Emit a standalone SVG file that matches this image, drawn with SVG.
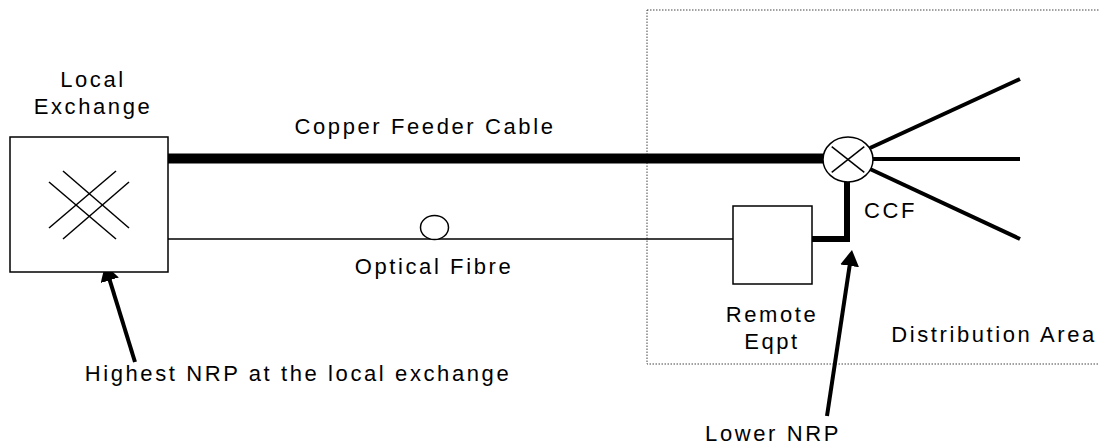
<svg xmlns="http://www.w3.org/2000/svg" width="1099" height="445" viewBox="0 0 1099 445">
<defs>
<style>
text{font-family:"Liberation Sans",Arial,sans-serif;font-size:22px;letter-spacing:2.6px;fill:#000}
.box{fill:#fff;stroke:#000;stroke-width:1.5}
.thin{stroke:#000;stroke-width:1.5;fill:none}
.ptr{stroke:#000;stroke-width:4;fill:none}
</style>
<marker id="ah" markerUnits="userSpaceOnUse" markerWidth="20" markerHeight="20" refX="8" refY="9.5" orient="auto">
<path d="M0,0 L16,9.5 L0,19 z" fill="#000"/>
</marker>
</defs>
<rect width="1099" height="445" fill="#fff"/>
<g id="distribution-area">
<rect x="647" y="10" width="470" height="354" fill="none" stroke="#444" stroke-width="1" stroke-dasharray="1.5 1.5"/>
<text x="994" y="342" text-anchor="middle">Distribution Area</text>
</g>
<g id="connectors">
<line x1="168" y1="158.5" x2="824" y2="158.5" stroke="#000" stroke-width="10"/>
<line class="thin" x1="168" y1="239" x2="733" y2="239"/>
<polyline points="812,239 847,239 847,180" fill="none" stroke="#000" stroke-width="6"/>
<line x1="870" y1="148" x2="1020" y2="79" stroke="#000" stroke-width="4"/>
<line x1="873" y1="159" x2="1020" y2="159" stroke="#000" stroke-width="4"/>
<line x1="870" y1="169" x2="1020" y2="239" stroke="#000" stroke-width="4"/>
<line class="ptr" x1="135" y1="362" x2="107.4" y2="272.6" marker-end="url(#ah)"/>
<line class="ptr" x1="827" y1="416" x2="850.8" y2="257.9" marker-end="url(#ah)"/>
</g>
<g id="local-exchange">
<rect class="box" x="10" y="137" width="158" height="135"/>
<line class="thin" x1="49" y1="182" x2="116" y2="239"/>
<line class="thin" x1="63" y1="171" x2="129" y2="228"/>
<line class="thin" x1="116" y1="171" x2="49" y2="228"/>
<line class="thin" x1="129" y1="182" x2="63" y2="239"/>
<text x="93" y="87" text-anchor="middle">Local</text>
<text x="93" y="114" text-anchor="middle">Exchange</text>
</g>
<g id="copper-label">
<text x="425" y="134" text-anchor="middle">Copper Feeder Cable</text>
</g>
<g id="optical-fibre">
<ellipse class="box" cx="434.5" cy="227.5" rx="14" ry="12"/>
<text x="434" y="274" text-anchor="middle">Optical Fibre</text>
</g>
<g id="ccf">
<ellipse class="box" cx="848" cy="159.5" rx="25" ry="22.5"/>
<line class="thin" x1="831.7" y1="146.7" x2="864.3" y2="172.3"/>
<line class="thin" x1="864.3" y1="146.7" x2="831.7" y2="172.3"/>
<text x="864" y="218">CCF</text>
</g>
<g id="remote-eqpt">
<rect class="box" x="733" y="206" width="79" height="78"/>
<text x="772" y="322" text-anchor="middle">Remote</text>
<text x="772" y="349" text-anchor="middle">Eqpt</text>
</g>
<g id="highest-nrp">
<text x="298" y="381" text-anchor="middle">Highest NRP at the local exchange</text>
</g>
<g id="lower-nrp">
<text x="773" y="441" text-anchor="middle">Lower NRP</text>
</g>
</svg>
